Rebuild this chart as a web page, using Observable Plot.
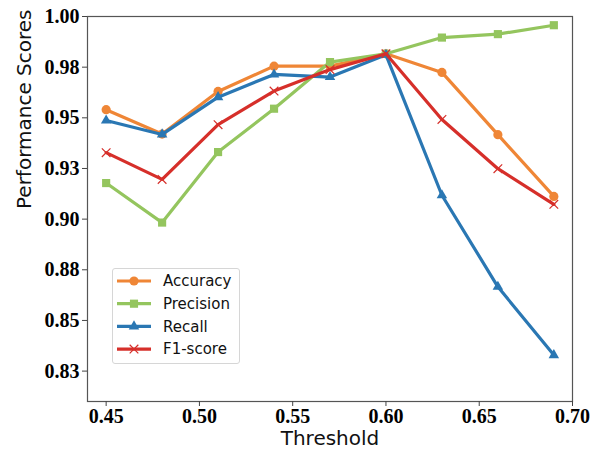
<!DOCTYPE html>
<html><head><meta charset="utf-8">
<script src="https://cdn.jsdelivr.net/npm/d3@7"></script>
<script src="https://cdn.jsdelivr.net/npm/@observablehq/plot@0.6"></script>
<style>
body{margin:0;background:#fff}
#wrap{position:relative;width:600px;height:451px}
#legend{position:absolute;left:112px;top:268px;width:126px;height:94px;border:1px solid #d6d6d6;border-radius:3px;background:rgba(255,255,255,0.85)}
</style>
</head><body><div id="wrap"><div id="legend"></div></div>
<script>
const thresholds = [0.45,0.48,0.51,0.54,0.57,0.60,0.63,0.66,0.69];
const accuracy = [0.954,0.942,0.963,0.9755,0.9755,0.9816,0.9724,0.9417,0.9112];
const precision = [0.9178,0.8983,0.9331,0.9545,0.9775,0.9816,0.9896,0.9913,0.9957];
const recall = [0.9487,0.9418,0.9602,0.9714,0.9701,0.9811,0.9118,0.8666,0.8329];
const f1 = [0.9328,0.9196,0.9466,0.9632,0.9738,0.9816,0.9492,0.9249,0.9073];
const seriesNames = ["Accuracy","Precision","Recall","F1-score"];
const seriesColors = ["#ef8636","#94c55e","#2a77b3","#d62f2a"];
const seriesSymbols = ["circle","square","triangle","times"];
const xTicks = [0.45,0.50,0.55,0.60,0.65,0.70];
const xTickLabels = ["0.45","0.50","0.55","0.60","0.65","0.70"];
const yTicks = [0.825,0.85,0.875,0.90,0.925,0.95,0.975,1.00];
const yTickLabels = ["0.83","0.85","0.88","0.90","0.93","0.95","0.98","1.00"];
const xLabel = "Threshold";
const yLabel = "Performance Scores";

const markerR = {circle: 4.6, square: 4.6, triangle: 3.9, times: 4.0};

const seriesValues = [accuracy, precision, recall, f1];
const rows = [];
seriesNames.forEach((name, i) => {
  thresholds.forEach((t, j) => rows.push({series: name, threshold: t, score: seriesValues[i][j]}));
});

const marks = [];
seriesNames.forEach((name, i) => {
  const d = rows.filter(r => r.series === name);
  const sym = seriesSymbols[i];
  marks.push(Plot.line(d, {x: "threshold", y: "score", stroke: "series", strokeWidth: 3.2, strokeLinejoin: "round"}));
  if (sym === "times") {
    marks.push(Plot.dot(d, {x: "threshold", y: "score", symbol: "series", stroke: "series", r: markerR[sym], strokeWidth: 1.2}));
  } else {
    marks.push(Plot.dot(d, {x: "threshold", y: "score", symbol: "series", fill: "series", r: markerR[sym]}));
  }
});

const tickFont = {fontFamily: "Liberation Serif", fontWeight: "bold", fontSize: 20, fill: "#000"};

const chart = Plot.plot({
  width: 600,
  height: 451,
  marginLeft: 87,
  marginRight: 28,
  marginTop: 16,
  marginBottom: 50,
  style: {background: "#fff", overflow: "visible"},
  x: {domain: [0.44, 0.70]},
  y: {domain: [0.81, 1.0]},
  color: {domain: seriesNames, range: seriesColors},
  symbol: {domain: seriesNames, range: seriesSymbols},
  marks: [
    Plot.frame({stroke: "#555", strokeWidth: 1.2}),
    Plot.axisX({ticks: xTicks, tickFormat: d => xTickLabels[xTicks.indexOf(d)], tickSize: 5, tickPadding: 2, stroke: "#444", label: null, ...tickFont}),
    Plot.axisY({ticks: yTicks, tickFormat: d => yTickLabels[yTicks.indexOf(d)], tickSize: 5, tickPadding: 3, stroke: "#444", label: null, ...tickFont}),
    Plot.text([xLabel], {frameAnchor: "bottom", dy: 37, lineAnchor: "middle", fontFamily: "DejaVu Sans", fontSize: 20, fill: "#111"}),
    Plot.text([yLabel], {frameAnchor: "left", dx: -63, rotate: -90, lineAnchor: "middle", fontFamily: "DejaVu Sans", fontSize: 20, fill: "#111"}),
    ...marks
  ]
});
document.getElementById("wrap").prepend(chart);

// legend
const lg = d3.select("#legend").append("svg").attr("width", 126).attr("height", 94);
seriesNames.forEach((name, i) => {
  const cy = 12 + i * 22.7;
  const g = lg.append("g");
  g.append("line").attr("x1", 4).attr("x2", 38).attr("y1", cy).attr("y2", cy)
    .attr("stroke", seriesColors[i]).attr("stroke-width", 3.2);
  const s = seriesSymbols[i];
  const symType = {circle: d3.symbolCircle, square: d3.symbolSquare, triangle: d3.symbolTriangle, times: d3.symbolTimes}[s];
  const path = d3.symbol(symType, Math.PI * markerR[s] ** 2)();
  const p = g.append("path").attr("d", path).attr("transform", `translate(21,${cy})`);
  if (s === "times") p.attr("fill", "none").attr("stroke", seriesColors[i]).attr("stroke-width", 1.2);
  else p.attr("fill", seriesColors[i]);
  g.append("text").attr("x", 50).attr("y", cy).attr("dy", "0.35em")
    .attr("font-family", "DejaVu Sans").attr("font-size", 15).attr("fill", "#111").text(name);
});
</script>
</body></html>
